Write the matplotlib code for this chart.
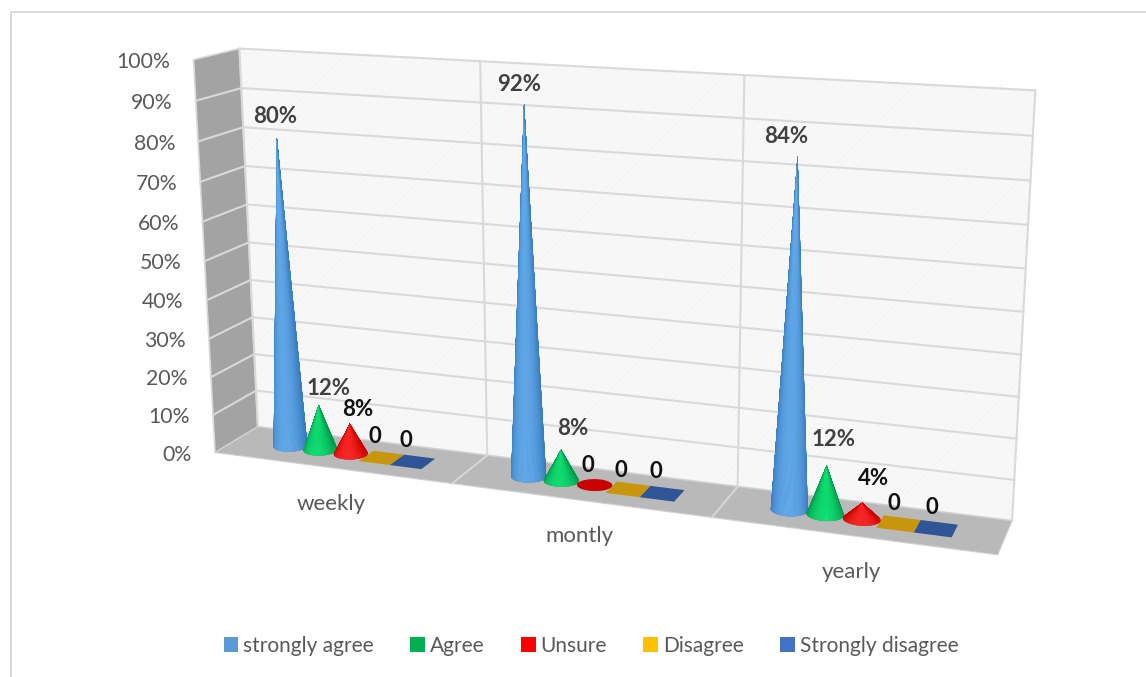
import numpy as np
import matplotlib
matplotlib.use('Agg')
import matplotlib.pyplot as plt
from matplotlib.collections import PolyCollection
from matplotlib.colors import to_rgb
from matplotlib.patches import Patch, Polygon

plt.rcParams['font.family'] = ['Lato', 'DejaVu Sans']
plt.rcParams['hatch.linewidth'] = 0.3

categories = ['weekly', 'montly', 'yearly']
series_names = ['strongly agree', 'Agree', 'Unsure', 'Disagree', 'Strongly disagree']
strongly_agree = [80, 92, 84]
agree = [12, 8, 12]
unsure = [8, 0, 4]
disagree = [0, 0, 0]
strongly_disagree = [0, 0, 0]
tick_values = [0, 10, 20, 30, 40, 50, 60, 70, 80, 90, 100]

series_values = [strongly_agree, agree, unsure, disagree, strongly_disagree]
legend_colors = ['#5b9bd5', '#00b050', '#ff0000', '#ffc000', '#4472c4']
# dark edge / bright centre of the cone shading, then flat colours for shapes lying on the floor
cone_shades = [('#3a7cc0', '#66aeee'), ('#009a4c', '#12e676'), ('#cf0000', '#ff2a2a')]
flat_colors = ['#3a7cc0', '#009a4c', '#c80000', '#c8960c', '#2f5597']

# (category, depth, value) -> pixel pairs for the 3d box, used to solve the camera
BOX_POINTS = [
    ((0, 0, 0), (216, 453)), ((0, 0, 1), (193, 59)), ((0, 1, 0), (257, 427)), ((0, 1, 1), (240, 49)),
    ((3, 1, 0), (1013, 520)), ((3, 1, 1), (1036, 90)), ((3, 0, 0), (997, 555)),
    ((1, 0, 0), (453, 483)), ((2, 0, 0), (712, 518)), ((1, 1, 0), (487, 455)), ((2, 1, 0), (737, 487)),
    ((1, 1, 1), (481, 61)), ((2, 1, 1), (743, 76)), ((0, 0, 0.5), (204, 261)), ((0, 1, 0.5), (249, 242)),
]

# text shift from the top of each mark, in pixels
label_shift = [
    [(-2, -22), (-5, -20), (-11, -20)],
    [(10, -17), (12, -21), (7, -26)],
    [(8, -14), (-7, -20), (11, -24)],
    [(-7, -21), (-7, -19), (-5, -20)],
    [(-7, -21), (-6, -22), (-4, -21)],
]
label_colors = ['#404040', '#404040', '#111111', '#111111', '#111111']

STEP = 0.131
CLUSTER_CENTER = 0.50
RADIUS_DEPTH = 0.19


def solve_camera(points):
    rows = []
    for (x, d, v), (px, py) in points:
        rows.append([x, d, v, 1, 0, 0, 0, 0, -px * x, -px * d, -px * v, -px])
        rows.append([0, 0, 0, 0, x, d, v, 1, -py * x, -py * d, -py * v, -py])
    return np.linalg.svd(np.array(rows, dtype=float))[2][-1].reshape(3, 4)


CAMERA = solve_camera(BOX_POINTS)


def project(x, d, v):
    x, d, v = np.broadcast_arrays(x, d, v)
    w = CAMERA @ np.array([x.ravel(), d.ravel(), v.ravel(), np.ones(x.size)], dtype=float)
    return np.column_stack([w[0] / w[2], w[1] / w[2]])


def quad(x0, x1, d0, d1, v0, v1, fixed):
    if fixed == 'x':
        return project([x0, x0, x0, x0], [d0, d1, d1, d0], [v0, v0, v1, v1])
    if fixed == 'd':
        return project([x0, x1, x1, x0], [d0, d0, d0, d0], [v0, v0, v1, v1])
    return project([x0, x1, x1, x0], [d0, d0, d1, d1], [v0, v0, v0, v0])


def draw_walls(ax):
    edge = '#d9d9d9'
    ax.add_patch(Polygon(quad(0, 0, 0, 1, 0, 1, 'x'), fc='#a3a3a3', ec=edge, lw=1.2, zorder=1))
    # back wall: faint diagonal texture under the outline
    back = quad(0, 3, 1, 1, 0, 1, 'd')
    ax.add_patch(Polygon(back, fc='#f8f8f8', ec='#f0f0f0', hatch='//////', lw=0, zorder=1))
    ax.add_patch(Polygon(back, fc='none', ec=edge, lw=1.5, zorder=1))
    ax.add_patch(Polygon(quad(0, 3, 0, 1, 0, 0, 'z'), fc='#b9b9b9', ec='#d0d0d0', lw=0.8, zorder=1))
    for tick in tick_values[1:-1]:
        v = tick / 100
        ax.plot(*project([0, 0], [0, 1], [v, v]).T, color=edge, lw=1.5, zorder=2)
        ax.plot(*project([0, 3], [1, 1], [v, v]).T, color=edge, lw=1.5, zorder=2)
    for i in (1, 2):
        ax.plot(*project([i, i], [1, 1], [0, 1]).T, color=edge, lw=1.5, zorder=2)
        ax.plot(*project([i, i], [0, 1], [0, 0]).T, color='#d6d6d6', lw=1.5, zorder=2)


def draw_cone(ax, x, value, s, z):
    theta = np.linspace(0, 2 * np.pi, 121)
    rim = project(x + STEP / 2 * np.cos(theta), 0.5 + RADIUS_DEPTH * np.sin(theta), 0)
    if value == 0:
        ax.add_patch(Polygon(rim, fc=flat_colors[s], ec='none', zorder=z))
        return
    apex = project(x, 0.5, value / 100)[0]
    dark, bright = (np.array(to_rgb(c)) for c in cone_shades[s])
    # solid silhouette first, then only the facets that face the viewer
    solid = [[rim[i], rim[i + 1], apex] for i in range(len(rim) - 1)]
    ax.add_collection(PolyCollection(solid, facecolors=dark, edgecolors=dark, linewidths=0.1, zorder=z))
    mid = (theta[:-1] + theta[1:]) / 2
    front = np.flatnonzero(np.sin(mid) < 0)
    polys = [[rim[i], rim[i + 1], apex] for i in front]
    light = np.clip(np.cos(mid[front] + np.pi / 2 - 0.2), 0, 1) ** 1.3
    colors = [dark + (bright - dark) * t for t in light]
    ax.add_collection(PolyCollection(polys, facecolors=colors, edgecolors=colors, linewidths=0.1, zorder=z))


fig = plt.figure(figsize=(11.46, 6.77), dpi=100)
ax = fig.add_axes([0, 0, 1, 1])
ax.set_xlim(0, 1146)
ax.set_ylim(677, 0)
ax.axis('off')

# outer chart border
ax.plot([11, 11, 1146], [677, 12, 12], color='#d9d9d9', lw=1.4, zorder=0)

draw_walls(ax)

for tick in tick_values:
    px, py = project(0, 0, tick / 100)[0]
    ax.text(px - 23, py + 2, f'{tick}%', ha='right', va='center', fontsize=15.3, color='#595959')

for i, name in enumerate(categories):
    px, py = project(i + 0.5, 0, 0)[0]
    ax.text(px, py + 36, name, ha='center', va='center', fontsize=16, color='#595959')

# boxes lie under the cones, cones overlap left to right
draw_order = [3, 4, 0, 1, 2]
for z, s in enumerate(draw_order):
    for i, values in enumerate(zip(*series_values)):
        x = i + CLUSTER_CENTER + (s - 2) * STEP
        value = values[s]
        if s < 3:
            draw_cone(ax, x, value, s, 5 + z)
        else:
            ax.add_patch(Polygon(quad(x - STEP / 2, x + STEP / 2, 0.5 - RADIUS_DEPTH, 0.5 + RADIUS_DEPTH, 0, 0, 'z'),
                                 fc=flat_colors[s], ec='none', zorder=5 + z))

for s, values in enumerate(series_values):
    for i, value in enumerate(values):
        x = i + CLUSTER_CENTER + (s - 2) * STEP
        px, py = project(x, 0.5, value / 100)[0]
        dx, dy = label_shift[s][i]
        text = f'{value}%' if value else '0'
        ax.text(px + dx, py + dy, text, ha='center', va='center', fontsize=16, fontweight='bold',
                color=label_colors[s], zorder=20)

handles = [Patch(fc=c, ec='none') for c in legend_colors]
ax.legend(handles, series_names, ncol=5, loc='center', bbox_to_anchor=(591 / 1146, 1 - 646 / 677), frameon=False,
          fontsize=15, labelcolor='#595959', handlelength=0.7, handleheight=0.7, handletextpad=0.24,
          columnspacing=1.75, borderpad=0)

fig.savefig('out.png', dpi=100)
